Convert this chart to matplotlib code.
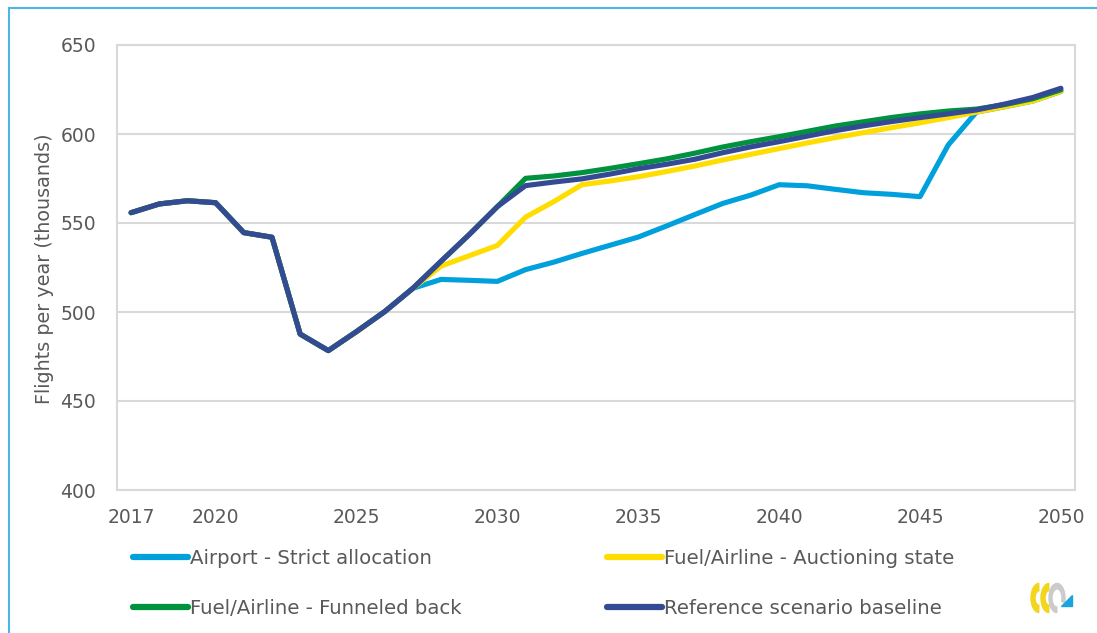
import matplotlib
matplotlib.use('Agg')
import matplotlib.pyplot as plt
from matplotlib.patches import Rectangle, Wedge, Polygon
import numpy as np

# years on the category axis
years = list(range(2017, 2051))
tick_years = [2017, 2020, 2025, 2030, 2035, 2040, 2045, 2050]

# shared history 2017-2026 (thousand flights)
history = [555.8, 560.7, 562.5, 561.4, 544.6, 542.0, 487.6, 478.3, 489.0, 500.2]

# scenarios 2027-2050
airport_strict = [513.3, 518.3, 517.8, 517.2, 523.8, 528.0, 532.9, 537.5, 542.1, 548.3,
                  554.7, 561.0, 565.7, 571.5, 570.9, 568.9, 567.0, 566.1, 564.8, 593.8,
                  612.3, 615.3, 618.5, 623.9]
fuel_auction = [513.3, 525.8, 531.6, 537.4, 553.3, 562.0, 571.5, 573.6, 576.0, 578.9,
                582.0, 585.4, 588.6, 591.8, 595.0, 598.0, 600.8, 603.6, 606.3, 609.2,
                612.3, 615.3, 618.5, 623.9]
fuel_funneled = [513.3, 528.5, 543.5, 559.2, 575.1, 576.4, 578.3, 580.7, 583.3, 586.0,
                 589.2, 592.7, 595.7, 598.5, 601.5, 604.5, 606.9, 609.3, 611.3, 612.9,
                 614.0, 616.5, 619.8, 624.8]
reference = [513.3, 528.5, 543.5, 559.2, 571.0, 573.0, 574.8, 577.5, 580.5, 583.0,
             585.8, 589.5, 592.8, 595.7, 598.8, 601.9, 604.6, 607.0, 609.2, 611.3,
             613.5, 616.8, 620.5, 625.7]

labels = ['Airport - Strict allocation', 'Fuel/Airline - Auctioning state',
          'Fuel/Airline - Funneled back', 'Reference scenario baseline']
colors = ['#00A0DC', '#FFDD00', '#00923F', '#354A94']
series = [airport_strict, fuel_auction, fuel_funneled, reference]

txt = '#595959'
grid_c = '#D9D9D9'

W, H = 1097, 633
fig = plt.figure(figsize=(W / 100, H / 100), dpi=100)

# outer frame (only top and left edges fall inside the picture)
fig.patches.append(Rectangle((9 / W, -0.1), 1.2, 1 - 8 / H + 0.1, transform=fig.transFigure,
                             fill=False, edgecolor='#4DB6E2', lw=1.5))

ax = fig.add_axes([117 / W, 1 - 490 / H, (1075 - 117) / W, (490 - 45) / H])

lines = []
for vals, lab, col in zip(series, labels, colors):
    ln, = ax.plot(years, history + vals, color=col, lw=3.7, label=lab,
                  solid_capstyle='round', solid_joinstyle='round')
    lines.append(ln)

ax.set_xlim(2016.5, 2050.5)
ax.set_ylim(400, 650)
ax.set_yticks(np.arange(400, 651, 50))
ax.set_xticks(tick_years)
ax.grid(axis='y', color=grid_c, lw=1.5)
ax.set_axisbelow(True)
for s in ax.spines.values():
    s.set_color(grid_c)
    s.set_linewidth(1.5)
ax.tick_params(length=0, colors=txt, labelsize=13.5)
ax.tick_params(axis='y', pad=15)
ax.tick_params(axis='x', pad=13)

fig.text(45 / W, 1 - 269 / H, 'Flights per year (thousands)', rotation=90,
         ha='center', va='center', color=txt, fontsize=13.8)

leg_kw = dict(frameon=False, fontsize=14.2, handlelength=2.8, handletextpad=0.1,
              labelspacing=1.55, labelcolor=txt, borderaxespad=0, borderpad=0)
leg1 = fig.legend([lines[0], lines[2]], [labels[0], labels[2]],
                  loc='upper left', bbox_to_anchor=(133 / W, 1 - 549 / H), **leg_kw)
leg2 = fig.legend([lines[1], lines[3]], [labels[1], labels[3]],
                  loc='upper left', bbox_to_anchor=(607 / W, 1 - 549 / H), **leg_kw)
for lg in (leg1, leg2):
    for h in lg.legend_handles:
        h.set_linewidth(4.5)
        h.set_solid_capstyle('round')

# small logo, bottom right
lax = fig.add_axes([1028 / W, 1 - 614 / H, 52 / W, 32 / H])
lax.set_xlim(0, 52)
lax.set_ylim(0, 17.6)
lax.axis('off')
lax.add_patch(Wedge((11, 8.8), 8, 92, 268, width=4, color='#F2D51C'))
lax.add_patch(Wedge((21, 8.8), 8, 92, 268, width=4, color='#F2D51C'))
lax.add_patch(Wedge((29, 8.8), 8, -20, 268, width=3, color='#CBCBCB'))
lax.add_patch(Polygon([[33, 4.2], [44, 4.2], [44, 10.5]], color='#1AA3DD'))

fig.savefig('out.png', dpi=100)
